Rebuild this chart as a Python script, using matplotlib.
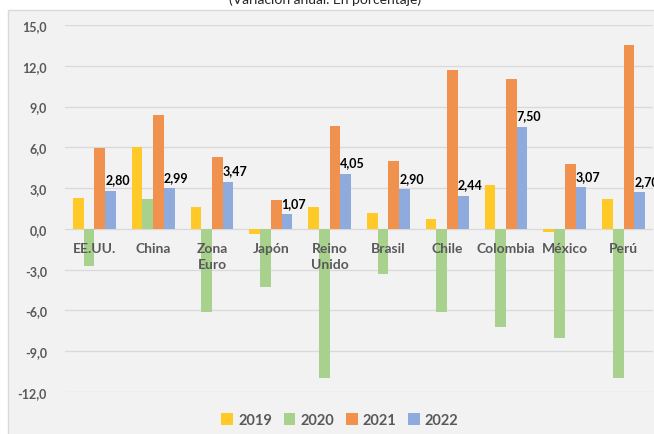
import numpy as np
import matplotlib
matplotlib.use('Agg')
import matplotlib.pyplot as plt
from matplotlib.patches import Rectangle

plt.rcParams['font.family'] = ['Lato', 'DejaVu Sans']

countries = ['EE.UU.', 'China', 'Zona\nEuro', 'Japón', 'Reino\nUnido',
             'Brasil', 'Chile', 'Colombia', 'México', 'Perú']
years = ['2019', '2020', '2021', '2022']

v2019 = [2.3, 6.0, 1.6, -0.4, 1.6, 1.2, 0.7, 3.2, -0.2, 2.2]
v2020 = [-2.7, 2.2, -6.1, -4.3, -11.0, -3.3, -6.1, -7.2, -8.0, -11.0]
v2021 = [5.95, 8.4, 5.3, 2.1, 7.6, 5.0, 11.7, 11.0, 4.8, 13.5]
v2022 = [2.80, 2.99, 3.47, 1.07, 4.05, 2.90, 2.44, 7.50, 3.07, 2.70]

colors = ['#FFCA28', '#A9D18E', '#F0914E', '#8FAADC']
grey = '#595959'


def main():
    fig = plt.figure(figsize=(6.54, 4.35), dpi=100)
    fig.patch.set_facecolor('white')

    # chart area box
    fig.patches.append(Rectangle((8 / 654, -0.05), 1.1, 1 - 11 / 435 + 0.05,
                                 transform=fig.transFigure, facecolor='#F2F2F2',
                                 edgecolor='#D9D9D9', linewidth=1.0, zorder=-5))

    fig.text(0.497, 1 - 4 / 435, '(Variación anual. En porcentaje)',
             ha='center', va='baseline', fontsize=10, color='#262626')

    ax = fig.add_axes([65 / 654, 1 - 393 / 435, (653 - 65) / 654, (393 - 26) / 435])
    ax.set_facecolor('none')

    x = np.arange(len(countries))
    w = 0.182
    series = [v2019, v2020, v2021, v2022]
    for i, (vals, c, lab) in enumerate(zip(series, colors, years)):
        ax.bar(x + (i - 1.5) * w, vals, width=w, color=c, label=lab, zorder=3)

    # data labels for 2022
    for xi, v in zip(x, v2022):
        ax.annotate('{0:.2f}'.format(v).replace('.', ','),
                    xy=(xi + 1.5 * w - w / 2, v), xytext=(0, 4),
                    textcoords='offset points', ha='left', va='bottom',
                    fontsize=9, fontweight='bold', color='black',
                    annotation_clip=False, zorder=4)

    # category labels next to zero line
    for xi, name in zip(x, countries):
        ax.annotate(name, xy=(xi, 0), xytext=(0, -9.5), textcoords='offset points',
                    ha='center', va='top', fontsize=10, fontweight='bold',
                    color=grey, linespacing=1.4, zorder=4)

    ax.set_xlim(-0.5, len(countries) - 0.5)
    ax.set_ylim(-12, 15)
    ax.set_yticks(np.arange(-12, 16, 3))
    ax.set_yticklabels(['{0:.1f}'.format(t).replace('.', ',') for t in np.arange(-12, 16, 3)])
    ax.set_xticks([])
    ax.tick_params(axis='y', length=0, pad=13, labelsize=9, labelcolor=grey)
    for lbl in ax.get_yticklabels():
        lbl.set_fontweight('bold')
    ax.grid(axis='y', color='#D9D9D9', linewidth=0.9, zorder=0)
    for s in ax.spines.values():
        s.set_visible(False)

    fig.legend(loc='center', bbox_to_anchor=(340 / 654, 1 - 421 / 435), ncol=4,
               frameon=False, handlelength=0.8, handleheight=0.8,
               handletextpad=0.35, columnspacing=0.8,
               prop={'size': 10.5, 'weight': 'bold'}, labelcolor=grey)

    fig.savefig('out.png', dpi=100)
    plt.close(fig)


if __name__ == '__main__':
    main()
